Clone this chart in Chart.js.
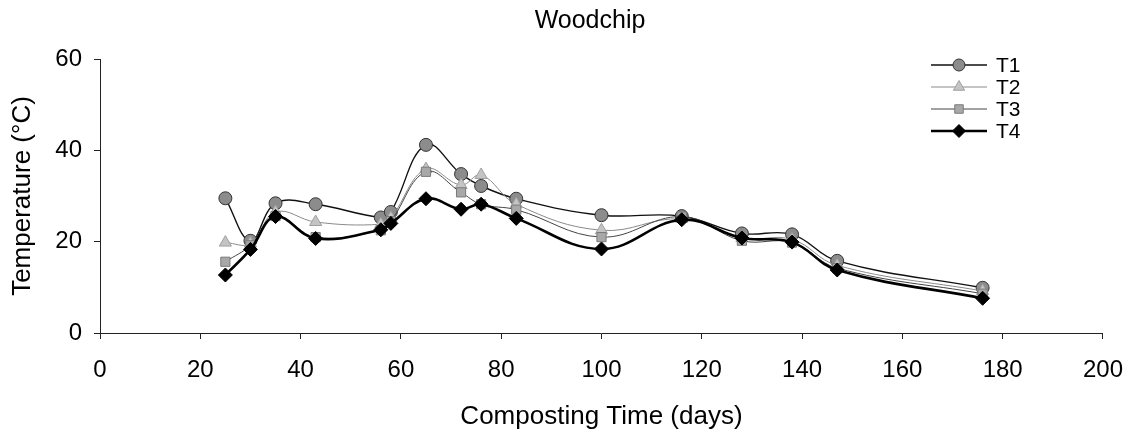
<!DOCTYPE html>
<html>
<head>
<meta charset="utf-8">
<script src="https://cdn.jsdelivr.net/npm/chart.js@4.4.1/dist/chart.umd.min.js"></script>
<style>
  html, body { margin: 0; padding: 0; background: #fff; }
  #wrap { width: 1140px; height: 432px; }
</style>
</head>
<body>
<div id="wrap"><canvas id="chart" width="1140" height="432"></canvas></div>
<script>
const TITLE = 'Woodchip';
const days = [25, 30, 35, 43, 56, 58, 65, 72, 76, 83, 100, 116, 128, 138, 147, 176];
const t1 = [29.5, 20.2, 28.4, 28.2, 25.3, 26.5, 41.2, 34.8, 32.2, 29.4, 25.8, 25.6, 21.8, 21.6, 15.8, 9.9];
const t2 = [19.8, 19.6, 26.5, 24.3, 23.8, 25.2, 35.9, 32.4, 34.6, 28.2, 22.5, 25.0, 20.8, 20.5, 14.8, 9.2];
const t3 = [15.6, 19.2, 25.6, 21.0, 22.5, 24.5, 35.3, 30.8, 28.2, 27.0, 21.0, 25.5, 20.2, 19.8, 14.2, 8.6];
const t4 = [12.7, 18.3, 25.5, 20.7, 22.6, 24.0, 29.4, 27.1, 28.2, 25.1, 18.4, 24.8, 20.8, 19.9, 13.8, 7.6];
const seriesNames = ['T1', 'T2', 'T3', 'T4'];
const xTicks = [0, 20, 40, 60, 80, 100, 120, 140, 160, 180, 200];
const yTicks = [0, 20, 40, 60];

const FONT = "'Liberation Sans', Arial, sans-serif";
const toPts = vals => vals.map((v, i) => ({ x: days[i], y: v }));

const styles = [
  { line: '#111', width: 1.4, fill: '#8c8c8c', border: '#333', point: 'circle', r: 6.5, order: 4 },
  { line: '#8a8a8a', width: 1, fill: '#c4c4c4', border: '#a0a0a0', point: 'triangle', r: 7, order: 3 },
  { line: '#444', width: 1, fill: '#a8a8a8', border: '#7a7a7a', point: 'rect', r: 6.5, order: 2 },
  { line: '#000', width: 2.6, fill: '#000', border: '#000', point: 'rectRot', r: 7, order: 1 }
];

const datasets = [t1, t2, t3, t4].map((vals, i) => ({
  label: seriesNames[i],
  data: toPts(vals),
  borderColor: styles[i].line,
  borderWidth: styles[i].width,
  backgroundColor: styles[i].fill,
  pointBackgroundColor: styles[i].fill,
  pointBorderColor: styles[i].border,
  pointBorderWidth: 1,
  pointStyle: styles[i].point,
  pointRadius: styles[i].r,
  tension: 0.4,
  order: styles[i].order
}));

// title and line-with-marker legend, drawn like the original spreadsheet chart
const decorations = {
  id: 'decorations',
  afterDraw(chart) {
    const ctx = chart.ctx;
    ctx.save();
    ctx.fillStyle = '#000';
    ctx.font = `25px ${FONT}`;
    ctx.textAlign = 'center';
    ctx.textBaseline = 'alphabetic';
    ctx.fillText(TITLE, 590, 28);

    const x0 = 931, x1 = 987, rowY = [65, 87, 109, 131];
    chart.data.datasets.forEach((ds, i) => {
      const y = rowY[i];
      ctx.strokeStyle = ds.borderColor;
      ctx.lineWidth = ds.borderWidth;
      ctx.beginPath(); ctx.moveTo(x0, y); ctx.lineTo(x1, y); ctx.stroke();
      ctx.fillStyle = ds.pointBackgroundColor;
      ctx.strokeStyle = ds.pointBorderColor;
      ctx.lineWidth = 1;
      Chart.helpers.drawPoint(ctx, { pointStyle: ds.pointStyle, radius: ds.pointRadius - 0.5, rotation: 0, borderWidth: 1 }, (x0 + x1) / 2, y);
      ctx.fillStyle = '#000';
      ctx.font = `21px ${FONT}`;
      ctx.textAlign = 'left';
      ctx.textBaseline = 'middle';
      ctx.fillText(ds.label, 996, y + 1);
    });
    ctx.restore();
  }
};

new Chart(document.getElementById('chart'), {
  type: 'line',
  data: { datasets },
  options: {
    responsive: false, animation: false,
    layout: { padding: { top: 59, right: 29, left: 0, bottom: 0 } },
    plugins: { legend: { display: false }, title: { display: false }, tooltip: { enabled: false } },
    scales: {
      x: {
        type: 'linear', min: 0, max: 200,
        afterFit: s => { s.height = 99; },
        afterBuildTicks: s => { s.ticks = xTicks.map(v => ({ value: v })); },
        grid: { drawOnChartArea: false, drawTicks: true, tickLength: 6, color: '#222', lineWidth: 1 },
        border: { display: true, color: '#222', width: 1 },
        ticks: { color: '#000', font: { family: FONT, size: 24 }, padding: 17, maxRotation: 0 },
        title: { display: true, text: 'Composting Time (days)', color: '#000', font: { family: FONT, size: 26 }, padding: { top: 5, bottom: 0 } }
      },
      y: {
        min: 0, max: 60,
        afterFit: s => { s.width = 100; },
        afterBuildTicks: s => { s.ticks = yTicks.map(v => ({ value: v })); },
        grid: { drawOnChartArea: false, drawTicks: true, tickLength: 6, color: '#222', lineWidth: 1 },
        border: { display: true, color: '#222', width: 1 },
        ticks: { color: '#000', font: { family: FONT, size: 24 }, padding: 12 },
        title: { display: true, text: 'Temperature (°C)', color: '#000', font: { family: FONT, size: 26 }, padding: { top: 7, bottom: 0 } }
      }
    }
  },
  plugins: [decorations]
});
</script>
</body>
</html>
